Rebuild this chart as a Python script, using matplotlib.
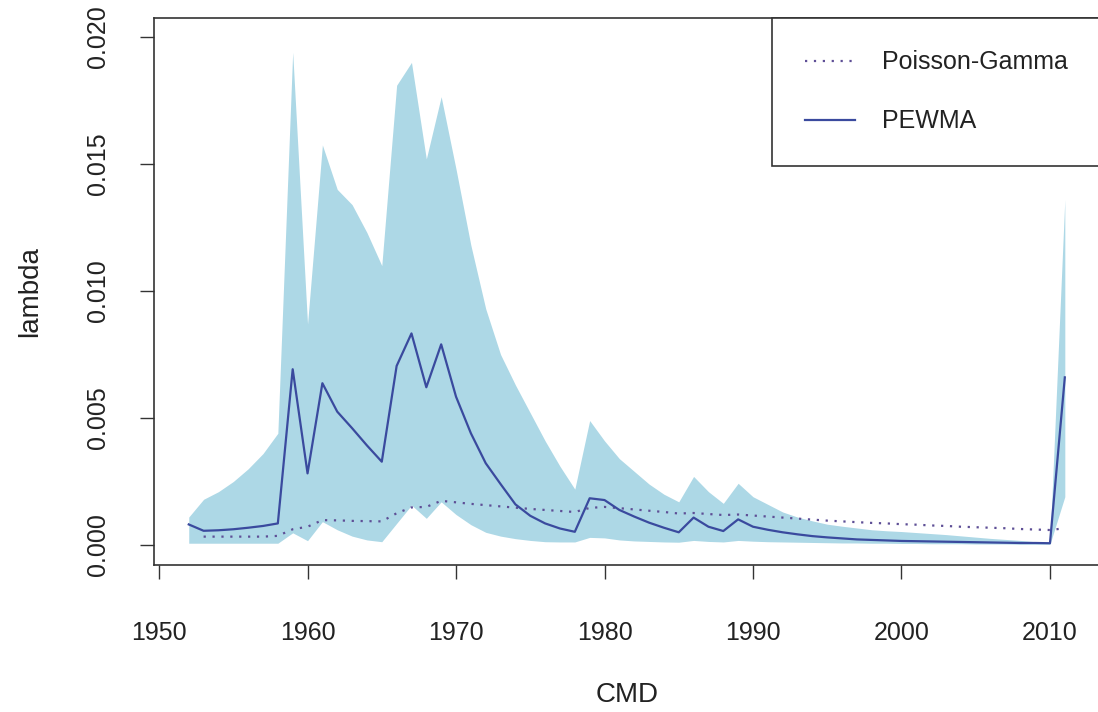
import numpy as np
import matplotlib
matplotlib.use("Agg")
import matplotlib.pyplot as plt

# === Données ===
years = list(range(1952, 2012))

pewma = [0.00081, 0.00056, 0.00058, 0.00062, 0.00068, 0.00075, 0.00085, 0.00692, 0.00282, 0.00637,
         0.00525, 0.00460, 0.00392, 0.00328, 0.00705, 0.00833, 0.00621, 0.00790, 0.00584, 0.00440,
         0.00322, 0.00240, 0.00160, 0.00115, 0.00085, 0.00065, 0.00052, 0.00184, 0.00177, 0.00138,
         0.00112, 0.00088, 0.00068, 0.00050, 0.00108, 0.00072, 0.00055, 0.00101, 0.00072, 0.00060,
         0.00050, 0.00042, 0.00035, 0.00030, 0.00026, 0.00022, 0.00020, 0.00018, 0.00016, 0.00015,
         0.00014, 0.00013, 0.00012, 0.00011, 0.00010, 0.00009, 0.00008, 0.00008, 0.00007, 0.00660]

poisson_gamma = [np.nan, 0.00033, 0.00033, 0.00033, 0.00033, 0.00033, 0.00036, 0.00062, 0.00072, 0.00098,
                 0.00097, 0.00095, 0.00094, 0.00093, 0.00125, 0.00148, 0.00150, 0.00174, 0.00168, 0.00162,
                 0.00157, 0.00152, 0.00147, 0.00142, 0.00138, 0.00134, 0.00130, 0.00146, 0.00150, 0.00145,
                 0.00140, 0.00135, 0.00130, 0.00124, 0.00126, 0.00122, 0.00118, 0.00120, 0.00116, 0.00112,
                 0.00108, 0.00104, 0.00100, 0.00096, 0.00093, 0.00090, 0.00087, 0.00085, 0.00082, 0.00080,
                 0.00077, 0.00075, 0.00072, 0.00070, 0.00068, 0.00066, 0.00063, 0.00061, 0.00059, 0.00066]

upper = [0.00110, 0.00180, 0.00210, 0.00250, 0.00300, 0.00360, 0.00440, 0.01940, 0.00870, 0.01575,
         0.01400, 0.01340, 0.01230, 0.01100, 0.01810, 0.01900, 0.01520, 0.01765, 0.01480, 0.01180,
         0.00930, 0.00750, 0.00630, 0.00520, 0.00410, 0.00310, 0.00220, 0.00490, 0.00410, 0.00340,
         0.00290, 0.00240, 0.00200, 0.00170, 0.00270, 0.00210, 0.00164, 0.00243, 0.00190, 0.00160,
         0.00130, 0.00110, 0.00095, 0.00082, 0.00074, 0.00067, 0.00060, 0.00056, 0.00053, 0.00049,
         0.00045, 0.00041, 0.00036, 0.00031, 0.00026, 0.00022, 0.00018, 0.00013, 0.00010, 0.01360]

lower = [0.00007, 0.00007, 0.00007, 0.00007, 0.00007, 0.00007, 0.00007, 0.00048, 0.00017, 0.00092,
         0.00060, 0.00035, 0.00020, 0.00013, 0.00085, 0.00157, 0.00105, 0.00170, 0.00120, 0.00080,
         0.00050, 0.00035, 0.00025, 0.00018, 0.00013, 0.00012, 0.00012, 0.00030, 0.00028, 0.00020,
         0.00016, 0.00014, 0.00012, 0.00011, 0.00018, 0.00014, 0.00012, 0.00018, 0.00015, 0.00013,
         0.00012, 0.00011, 0.00010, 0.00009, 0.00008, 0.00008, 0.00007, 0.00007, 0.00006, 0.00006,
         0.00005, 0.00005, 0.00005, 0.00004, 0.00004, 0.00004, 0.00003, 0.00003, 0.00003, 0.00190]

x_ticks = [1950, 1960, 1970, 1980, 1990, 2000, 2010]
y_ticks = [0.000, 0.005, 0.010, 0.015, 0.020]

plt.rcParams['font.family'] = ['Liberation Sans', 'DejaVu Sans']

fig = plt.figure(figsize=(10.98, 7.12), dpi=100)
ax = fig.add_axes([0.14026, 0.20646, 0.86157, 0.76826])

# Bande d'incertitude
ax.fill_between(years, lower, upper, color='#add8e6', linewidth=0)

# Courbes
ax.plot(years, poisson_gamma, color='#5e4f96', linestyle=(0, (1, 3)), linewidth=1.6,
        label="Poisson-Gamma")
ax.plot(years, pewma, color='#3a4a9e', linestyle='-', linewidth=1.6, label="PEWMA")

# === Axes ===
ax.set_xlim(1949.66, 2013.37)
ax.set_ylim(-0.000787, 0.020748)
ax.set_xticks(x_ticks)
ax.set_yticks(y_ticks)
ax.set_yticklabels(["%.3f" % v for v in y_ticks], rotation=90, va='center')
ax.tick_params(direction='out', length=10, width=1, color='#333333',
               labelsize=18, labelcolor='#222222')
ax.tick_params(axis='x', pad=30)
ax.tick_params(axis='y', pad=22)
for sp in ax.spines.values():
    sp.set_color('#333333')
    sp.set_linewidth(1.2)

ax.set_xlabel("CMD", fontsize=20, color='#222222')
ax.set_ylabel("lambda", fontsize=20, color='#222222')
ax.xaxis.set_label_coords(0.5, -0.2377)
ax.xaxis.label.set_va('center')
ax.yaxis.set_label_coords(-0.131, 0.5)
ax.yaxis.label.set_va('center')

leg = ax.legend(loc='upper right', bbox_to_anchor=(1.0, 1.0), borderaxespad=0,
                fancybox=False, edgecolor='#333333', framealpha=1, fontsize=18,
                handlelength=2.0, handletextpad=1.08, labelspacing=1.4, borderpad=1.3)
leg.get_frame().set_linewidth(1.2)
for t in leg.get_texts():
    t.set_color('#222222')

fig.savefig("out.png", dpi=100)
